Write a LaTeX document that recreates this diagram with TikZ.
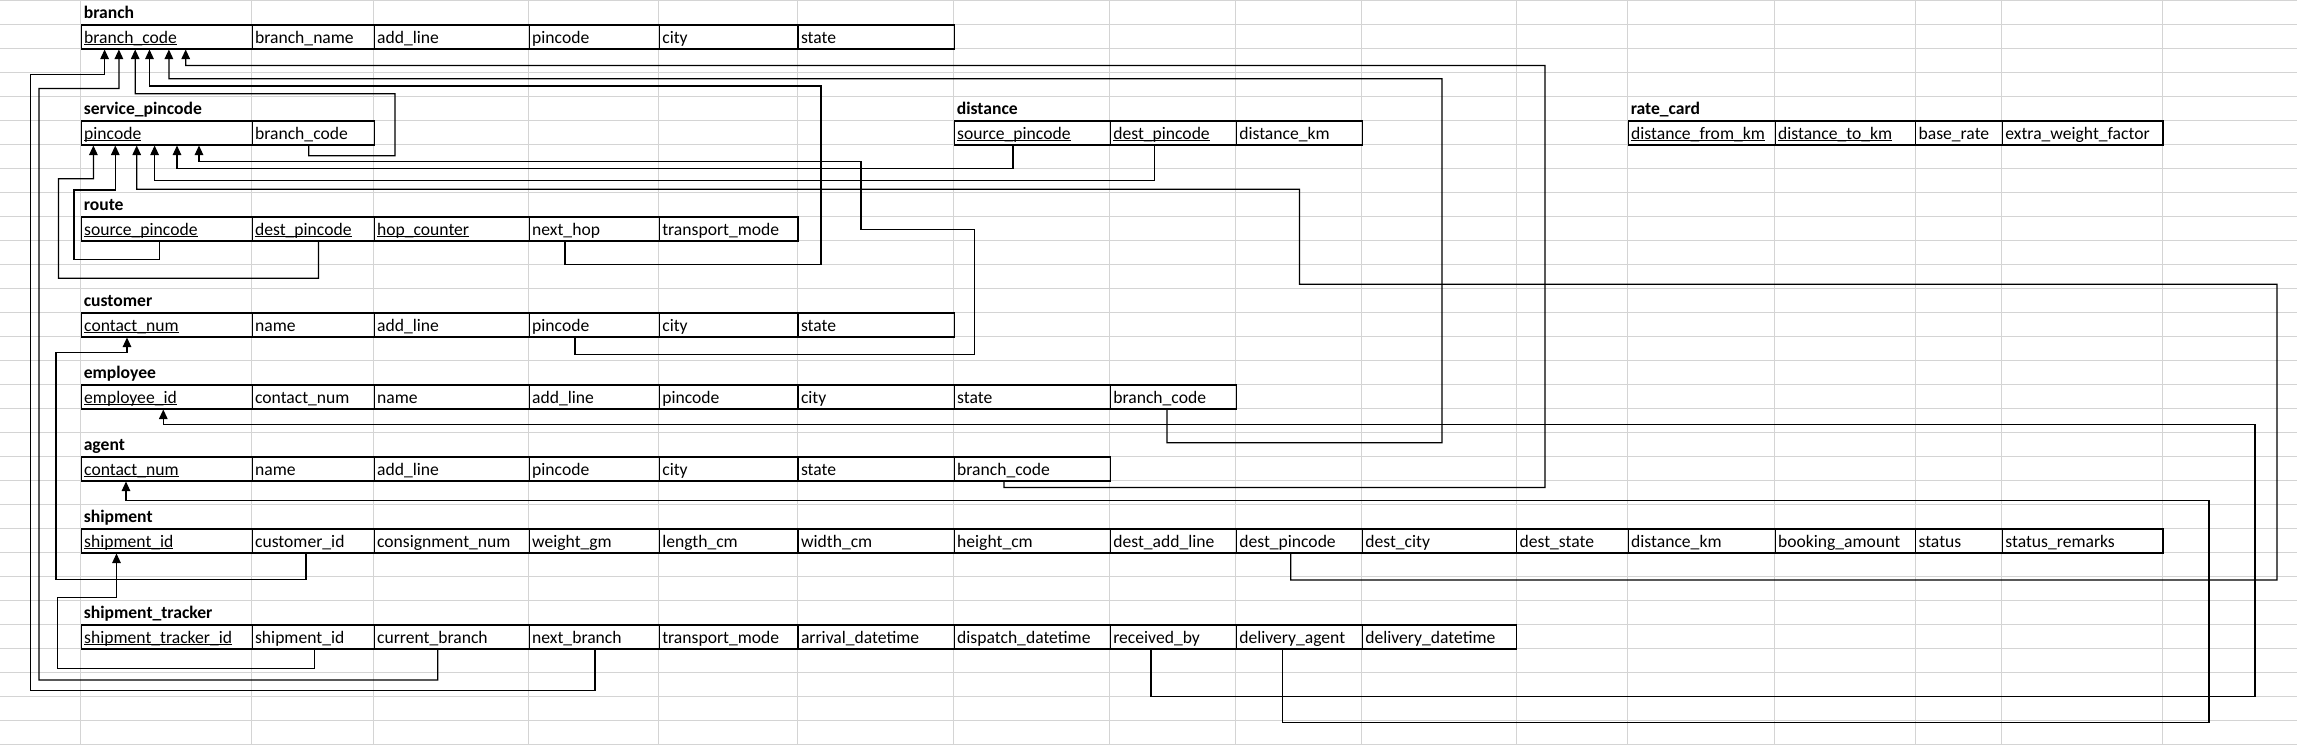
\documentclass[tikz,border=0pt]{standalone}
\usepackage{fontspec}
\setmainfont{Carlito}
\usetikzlibrary{arrows.meta}
\definecolor{gridc}{RGB}{212,212,212}
\newsavebox\ulbox
\newcommand\ulx[1]{\sbox\ulbox{#1}\rlap{\usebox\ulbox}\rule[-1.8pt]{\wd\ulbox}{1.1pt}}
\newcommand\cellat[5]{%
  \pgfmathsetmacro\cw{#3-#2}\pgfmathsetmacro\tw{#3-#2-6}%
  \node[cell, minimum width=\cw pt, text width=\tw pt] (#1) at (#2,#4) {#5};}
\begin{document}
\begin{tikzpicture}[x=1pt,y=-1pt,
  cell/.style={draw=black, line width=1.2pt, anchor=north west, inner xsep=3pt, inner ysep=0pt,
    minimum height=24pt, text height=18.3pt, text depth=5.7pt, align=left,
    font=\fontsize{17.6}{20}\selectfont},
  ttl/.style={anchor=north west, inner xsep=3pt, inner ysep=0pt, text height=18.3pt, text depth=5.7pt,
    font=\fontsize{17.6}{20}\selectfont\bfseries},
  gridl/.style={draw=gridc, line width=1pt},
  fk/.style={draw=black, line width=1.2pt, -{Triangle[length=9.5pt,width=8.5pt]}}]
\useasboundingbox (0,0) rectangle (2297,745);
\fill[white] (0,0) rectangle (2297,745);
% spreadsheet grid
\foreach \r in {0,...,31}{\pgfmathsetmacro\yy{0.3+24*\r}\draw[gridl] (0,\yy) -- (2297,\yy);}
\foreach \x in {80.6,251.5,373.5,528.6,658.7,797.4,953.6,1109.7,1235.7,1361.7,1516,1627.6,1774.5,1915,2001.8,2162.4}
  {\draw[gridl] (\x,0) -- (\x,745);}
% ---------- branch
\node[ttl] (tbranch) at (80.6,0.3) {branch};
\cellat{b1}{80.6}{251.5}{24.3}{\ulx{branch\_code}}
\cellat{b2}{251.5}{373.5}{24.3}{branch\_name}
\cellat{b3}{373.5}{528.6}{24.3}{add\_line}
\cellat{b4}{528.6}{658.7}{24.3}{pincode}
\cellat{b5}{658.7}{797.4}{24.3}{city}
\cellat{b6}{797.4}{953.6}{24.3}{state}
% ---------- service_pincode
\node[ttl] (tsp) at (80.6,96.3) {service\_pincode};
\cellat{sp1}{80.6}{251.5}{120.3}{\ulx{pincode}}
\cellat{sp2}{251.5}{373.5}{120.3}{branch\_code}
% ---------- distance
\node[ttl] (tdist) at (953.6,96.3) {distance};
\cellat{d1}{953.6}{1109.7}{120.3}{\ulx{source\_pincode}}
\cellat{d2}{1109.7}{1235.7}{120.3}{\ulx{dest\_pincode}}
\cellat{d3}{1235.7}{1361.7}{120.3}{distance\_km}
% ---------- rate_card
\node[ttl] (trc) at (1627.6,96.3) {rate\_card};
\cellat{rc1}{1627.6}{1774.5}{120.3}{\ulx{distance\_from\_km}}
\cellat{rc2}{1774.5}{1915}{120.3}{\ulx{distance\_to\_km}}
\cellat{rc3}{1915}{2001.8}{120.3}{base\_rate}
\cellat{rc4}{2001.8}{2162.4}{120.3}{extra\_weight\_factor}
% ---------- route
\node[ttl] (troute) at (80.6,192.3) {route};
\cellat{r1}{80.6}{251.5}{216.3}{\ulx{source\_pincode}}
\cellat{r2}{251.5}{373.5}{216.3}{\ulx{dest\_pincode}}
\cellat{r3}{373.5}{528.6}{216.3}{\ulx{hop\_counter}}
\cellat{r4}{528.6}{658.7}{216.3}{next\_hop}
\cellat{r5}{658.7}{797.4}{216.3}{transport\_mode}
% ---------- customer
\node[ttl] (tcust) at (80.6,288.3) {customer};
\cellat{c1}{80.6}{251.5}{312.3}{\ulx{contact\_num}}
\cellat{c2}{251.5}{373.5}{312.3}{name}
\cellat{c3}{373.5}{528.6}{312.3}{add\_line}
\cellat{c4}{528.6}{658.7}{312.3}{pincode}
\cellat{c5}{658.7}{797.4}{312.3}{city}
\cellat{c6}{797.4}{953.6}{312.3}{state}
% ---------- employee
\node[ttl] (temp) at (80.6,360.3) {employee};
\cellat{e1}{80.6}{251.5}{384.3}{\ulx{employee\_id}}
\cellat{e2}{251.5}{373.5}{384.3}{contact\_num}
\cellat{e3}{373.5}{528.6}{384.3}{name}
\cellat{e4}{528.6}{658.7}{384.3}{add\_line}
\cellat{e5}{658.7}{797.4}{384.3}{pincode}
\cellat{e6}{797.4}{953.6}{384.3}{city}
\cellat{e7}{953.6}{1109.7}{384.3}{state}
\cellat{e8}{1109.7}{1235.7}{384.3}{branch\_code}
% ---------- agent
\node[ttl] (tagent) at (80.6,432.3) {agent};
\cellat{a1}{80.6}{251.5}{456.3}{\ulx{contact\_num}}
\cellat{a2}{251.5}{373.5}{456.3}{name}
\cellat{a3}{373.5}{528.6}{456.3}{add\_line}
\cellat{a4}{528.6}{658.7}{456.3}{pincode}
\cellat{a5}{658.7}{797.4}{456.3}{city}
\cellat{a6}{797.4}{953.6}{456.3}{state}
\cellat{a7}{953.6}{1109.7}{456.3}{branch\_code}
% ---------- shipment
\node[ttl] (tship) at (80.6,504.3) {shipment};
\cellat{s1}{80.6}{251.5}{528.3}{\ulx{shipment\_id}}
\cellat{s2}{251.5}{373.5}{528.3}{customer\_id}
\cellat{s3}{373.5}{528.6}{528.3}{consignment\_num}
\cellat{s4}{528.6}{658.7}{528.3}{weight\_gm}
\cellat{s5}{658.7}{797.4}{528.3}{length\_cm}
\cellat{s6}{797.4}{953.6}{528.3}{width\_cm}
\cellat{s7}{953.6}{1109.7}{528.3}{height\_cm}
\cellat{s8}{1109.7}{1235.7}{528.3}{dest\_add\_line}
\cellat{s9}{1235.7}{1361.7}{528.3}{dest\_pincode}
\cellat{s10}{1361.7}{1516}{528.3}{dest\_city}
\cellat{s11}{1516}{1627.6}{528.3}{dest\_state}
\cellat{s12}{1627.6}{1774.5}{528.3}{distance\_km}
\cellat{s13}{1774.5}{1915}{528.3}{booking\_amount}
\cellat{s14}{1915}{2001.8}{528.3}{status}
\cellat{s15}{2001.8}{2162.4}{528.3}{status\_remarks}
% ---------- shipment_tracker
\node[ttl] (ttrack) at (80.6,600.3) {shipment\_tracker};
\cellat{tr1}{80.6}{251.5}{624.3}{\ulx{shipment\_tracker\_id}}
\cellat{tr2}{251.5}{373.5}{624.3}{shipment\_id}
\cellat{tr3}{373.5}{528.6}{624.3}{current\_branch}
\cellat{tr4}{528.6}{658.7}{624.3}{next\_branch}
\cellat{tr5}{658.7}{797.4}{624.3}{transport\_mode}
\cellat{tr6}{797.4}{953.6}{624.3}{arrival\_datetime}
\cellat{tr7}{953.6}{1109.7}{624.3}{dispatch\_datetime}
\cellat{tr8}{1109.7}{1235.7}{624.3}{received\_by}
\cellat{tr9}{1235.7}{1361.7}{624.3}{delivery\_agent}
\cellat{tr10}{1361.7}{1516}{624.3}{delivery\_datetime}
% ---------- connectors into branch.branch_code
\draw[fk] ([xshift=66.4pt]tr4.south west) |- (30.8,690.5) |- (104.6,74.5) -- ([xshift=24pt]b1.south west);
\draw[fk] ([xshift=64.3pt]tr3.south west) |- (39,680) |- (118.9,88.5) -- ([xshift=38.3pt]b1.south west);
\draw[fk] ([xshift=57.2pt]sp2.south west) |- (395,155.7) |- (135.2,93.7) -- ([xshift=54.6pt]b1.south west);
\draw[fk] ([xshift=36.4pt]r4.south west) |- (821,264.3) |- (149.5,86) -- ([xshift=68.9pt]b1.south west);
\draw[fk] ([xshift=57.3pt]e8.south west) |- (1442,442.7) |- (168.9,78.7) -- ([xshift=88.3pt]b1.south west);
\draw[fk] ([xshift=50.4pt]a7.south west) |- (1545,487.5) |- (185.7,65.5) -- ([xshift=105.1pt]b1.south west);
% ---------- connectors into service_pincode.pincode
\draw[fk] ([xshift=66.9pt]r2.south west) |- (58.5,278.3) |- (93.4,178.7) -- ([xshift=12.8pt]sp1.south west);
\draw[fk] ([xshift=79.1pt]r1.south west) |- (74,259.5) |- (115.3,190) -- ([xshift=34.7pt]sp1.south west);
\draw[fk] ([xshift=55.1pt]s9.south west) |- (2277,580) |- (1299.5,284.2) |- (136.7,189.2) -- ([xshift=56.1pt]sp1.south west);
\draw[fk] ([xshift=44.9pt]d2.south west) |- (154.6,180.7) -- ([xshift=74pt]sp1.south west);
\draw[fk] ([xshift=59.4pt]d1.south west) |- (177,168.3) -- ([xshift=96.4pt]sp1.south west);
\draw[fk] ([xshift=46.4pt]c4.south west) |- (974.5,354.3) |- (861,229.3) |- (199,161.7) -- ([xshift=118.4pt]sp1.south west);
% ---------- other connectors
\draw[fk] ([xshift=54.5pt]s2.south west) |- (56,579.3) |- (127,352.5) -- ([xshift=46.4pt]c1.south west);
\draw[fk] ([xshift=41.3pt]tr8.south west) |- (2255,696.4) |- (163.3,424.5) -- ([xshift=82.7pt]e1.south west);
\draw[fk] ([xshift=46.9pt]tr9.south west) |- (2209,722.5) |- (126,500.5) -- ([xshift=45.4pt]a1.south west);
\draw[fk] ([xshift=63pt]tr2.south west) |- (57.3,668.8) |- (116.5,597.5) -- ([xshift=35.9pt]s1.south west);
\end{tikzpicture}
\end{document}
